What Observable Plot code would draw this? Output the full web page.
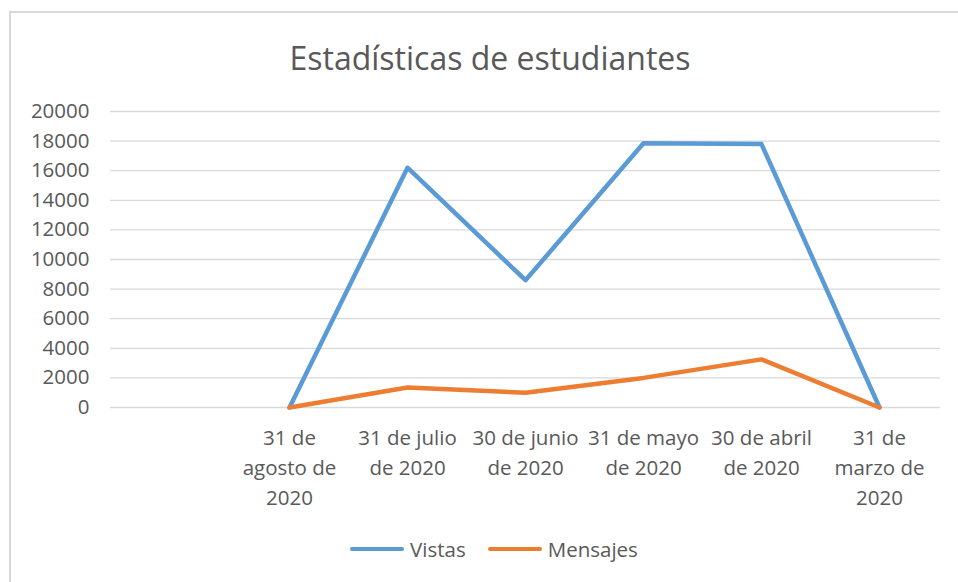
<!DOCTYPE html>
<html><head><meta charset="utf-8">
<script src="https://cdn.jsdelivr.net/npm/d3@7"></script>
<script src="https://cdn.jsdelivr.net/npm/@observablehq/plot@0.6"></script>
<style>
body{margin:0;background:#fff;font-family:"Open Sans",sans-serif;}
#wrap{position:relative;width:958px;height:582px;overflow:hidden;background:#fff;}
#frame{position:absolute;left:9px;top:11px;width:980px;height:620px;border:2px solid #d9d9d9;box-sizing:border-box;}
#title{position:absolute;top:38px;left:10px;width:960px;height:40px;line-height:40px;text-align:center;font-size:32px;color:#595959;}
#legend{position:absolute;top:534px;left:10px;width:968px;height:30px;line-height:30px;display:flex;justify-content:center;align-items:center;font-size:20.5px;color:#595959;}
.item{display:flex;align-items:center;margin:0 11px;}
.sw{width:54px;height:4.5px;border-radius:3px;margin-right:6px;}
#chart{position:absolute;left:0;top:0;}
</style></head>
<body>
<div id="wrap">
  <div id="frame"></div>
  <div id="title">Estadísticas de estudiantes</div>
  <div id="chart"></div>
  <div id="legend"></div>
</div>
<script>
const dates = ["31 de agosto de 2020","31 de julio de 2020","30 de junio de 2020","31 de mayo de 2020","30 de abril de 2020","31 de marzo de 2020"];
const categories = ["", ...dates];
const tickLabels = ["", "31 de\nagosto de\n2020", "31 de julio\nde 2020", "30 de junio\nde 2020", "31 de mayo\nde 2020", "30 de abril\nde 2020", "31 de\nmarzo de\n2020"];
const vistas = [0, 16200, 8600, 17850, 17800, 0];
const mensajes = [0, 1350, 1000, 2000, 3250, 0];
const yTicks = [0, 2000, 4000, 6000, 8000, 10000, 12000, 14000, 16000, 18000, 20000];
const seriesNames = ["Vistas", "Mensajes"];
const seriesColors = ["#5B9BD5", "#ED7D31"];

const rows = dates.map((d, i) => ({date: d, vistas: vistas[i], mensajes: mensajes[i]}));

const chart = Plot.plot({
  width: 958, height: 582,
  marginTop: 111, marginBottom: 175, marginLeft: 110, marginRight: 18,
  style: {fontFamily: "Open Sans, sans-serif", fontSize: "20.5px", color: "#595959", background: "transparent"},
  x: {type: "point", domain: categories, padding: 0.5},
  y: {domain: [0, 20000]},
  marks: [
    Plot.gridY({ticks: yTicks, stroke: "#d9d9d9", strokeOpacity: 1, strokeWidth: 1.3}),
    Plot.axisY({ticks: yTicks, tickSize: 0, tickPadding: 21, fill: "#595959", fontSize: 20.5, label: null,
      tickFormat: d => String(d)}),
    Plot.axisX({tickSize: 0, tickPadding: 16, fill: "#595959", fontSize: 20.5, lineHeight: 1.46, label: null,
      tickFormat: d => tickLabels[categories.indexOf(d)]}),
    Plot.lineY(rows, {x: "date", y: "vistas", stroke: seriesColors[0], strokeWidth: 4.5, strokeLinejoin: "round", strokeLinecap: "round"}),
    Plot.lineY(rows, {x: "date", y: "mensajes", stroke: seriesColors[1], strokeWidth: 4.5, strokeLinejoin: "round", strokeLinecap: "round"})
  ]
});
document.getElementById("chart").appendChild(chart);

const legend = document.getElementById("legend");
seriesNames.forEach((n, i) => {
  const it = document.createElement("div");
  it.className = "item";
  it.innerHTML = `<div class="sw" style="background:${seriesColors[i]}"></div><span>${n}</span>`;
  legend.appendChild(it);
});
</script>
</body></html>
